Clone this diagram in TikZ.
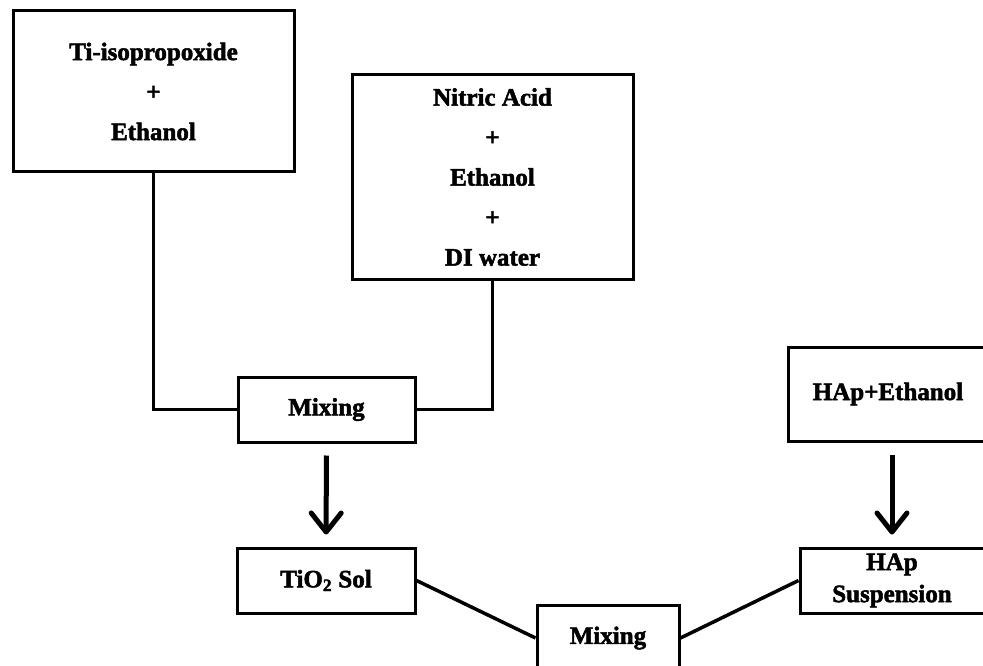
\documentclass[tikz,border=0pt]{standalone}
\usepackage{fontspec}
\setmainfont[BoldFeatures={FakeBold=2}]{Liberation Serif}
\usetikzlibrary{arrows.meta}

\begin{document}
\begin{tikzpicture}[x=1pt, y=-1pt,
  box/.style={draw, line width=3pt, align=center, inner sep=0pt,
    font={\fontsize{25}{40}\selectfont\bfseries}},
  link/.style={line width=3.5pt},
  flow/.style={line width=5pt, -{Straight Barb[length=19pt, width=30pt, round]},
    shorten <=12pt, shorten >=12pt}]
\useasboundingbox (0,0) rectangle (983,666);
\clip (0,0) rectangle (983,666);

\node [box, minimum width=281pt, minimum height=161pt] (ti) at (153.5,91.5) {Ti-isopropoxide\\+\\Ethanol};
\node [box, minimum width=281pt, minimum height=204pt] (acid) at (492.5,177) {Nitric Acid\\+\\Ethanol\\+\\DI water};
\node [box, minimum width=177pt, minimum height=65pt] (mixa) at (326.5,409.5) {Mixing};
\node [box, minimum width=178pt, minimum height=65pt] (tio) at (326,580.5) {TiO\textsubscript{2} Sol};

\node [box, minimum width=200pt, minimum height=94pt] (hapeth) at (888,394) {HAp+Ethanol};
\node [box, minimum width=184pt, minimum height=65pt] (hapsus) at (892,580.5) {HAp\\[-8pt]Suspension};
\node [box, minimum width=142pt, minimum height=66pt] (mixb) at (608,638) {Mixing};

\draw [link] (ti.south) |- (mixa.west);
\draw [link] (acid.south) |- (mixa.east);
\draw [flow] (mixa) -- (tio);
\draw [flow] (hapeth.south -| hapsus.north) -- (hapsus.north);
\draw [link] (tio.east) -- (mixb.west);
\draw [link] (mixb.east) -- (hapsus.west);
\end{tikzpicture}
\end{document}
